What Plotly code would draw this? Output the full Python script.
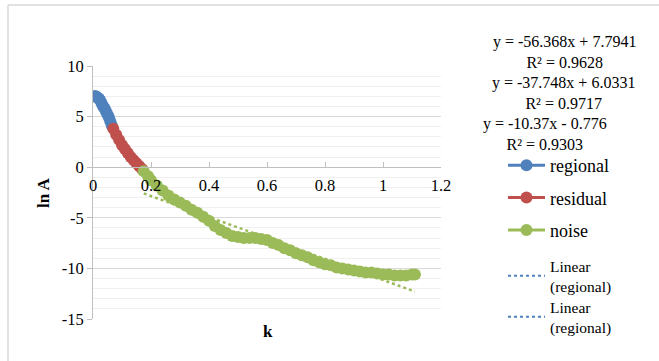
import plotly.graph_objects as go

# ---- data ----
regional_k = [0.005, 0.01, 0.015, 0.02, 0.025, 0.03, 0.035, 0.04, 0.045, 0.05, 0.055, 0.06, 0.065]
regional_lnA = [7.0, 7.0, 6.9, 6.8, 6.6, 6.3, 6.0, 5.8, 5.5, 5.2, 4.9, 4.5, 4.1]

residual_k = [0.07, 0.08, 0.09, 0.10, 0.11, 0.12, 0.13, 0.14, 0.15, 0.16, 0.17]
residual_lnA = [3.8, 3.2, 2.7, 2.2, 1.8, 1.4, 1.0, 0.7, 0.4, 0.1, -0.2]

noise_k = [0.175, 0.19, 0.20, 0.22, 0.24, 0.26, 0.28, 0.30, 0.32, 0.34, 0.36, 0.38, 0.40,
           0.42, 0.44, 0.46, 0.48, 0.50, 0.52, 0.54, 0.56, 0.58, 0.60, 0.62, 0.64, 0.66,
           0.68, 0.70, 0.72, 0.74, 0.76, 0.78, 0.80, 0.82, 0.84, 0.86, 0.88, 0.90, 0.92,
           0.94, 0.96, 0.98, 1.00, 1.02, 1.04, 1.06, 1.08, 1.10, 1.11]
noise_lnA = [-0.4, -0.9, -1.3, -1.8, -2.3, -2.8, -3.2, -3.5, -3.8, -4.2, -4.5, -4.9, -5.3,
             -5.8, -6.2, -6.5, -6.8, -6.9, -7.0, -7.0, -7.0, -7.1, -7.2, -7.5, -7.7, -8.0,
             -8.2, -8.5, -8.7, -8.9, -9.2, -9.4, -9.6, -9.7, -9.9, -10.0, -10.1, -10.2, -10.3,
             -10.4, -10.4, -10.5, -10.6, -10.6, -10.7, -10.7, -10.7, -10.6, -10.6]

# trendline coefficients (slope, intercept, R2)
trend_slopes = [-56.368, -37.748, -10.37]
trend_intercepts = [7.7941, 6.0331, -0.776]
trend_r2 = ["0.9628", "0.9717", "0.9303"]
trend_labels = ["y = -56.368x + 7.7941", "y = -37.748x + 6.0331", "y = -10.37x - 0.776"]

x_ticks = [0, 0.2, 0.4, 0.6, 0.8, 1, 1.2]
x_ticklabels = ["0", "0.2", "0.4", "0.6", "0.8", "1", "1.2"]
y_ticks = [10, 5, 0, -5, -10, -15]
y_ticklabels = ["10", "5", "0", "-5", "-10", "-15"]

BLUE = "#4f81bd"
RED = "#c0504d"
GREEN = "#9bbb59"
SERIF = "Liberation Serif, Times New Roman, serif"

fig = go.Figure()

def trend(xs, i):
    x0, x1 = min(xs), max(xs)
    return [x0, x1], [trend_slopes[i] * x0 + trend_intercepts[i], trend_slopes[i] * x1 + trend_intercepts[i]]

# trendlines drawn first (under markers)
tx, ty = trend(regional_k, 0)
fig.add_trace(go.Scatter(x=tx, y=ty, mode="lines", name="Linear<br>(regional)",
                         line=dict(color=BLUE, width=2, dash="dot"), legend="legend2"))
tx, ty = trend(residual_k, 1)
fig.add_trace(go.Scatter(x=tx, y=ty, mode="lines", name="Linear<br>(regional)",
                         line=dict(color=BLUE, width=2, dash="dot"), legend="legend3"))
tx, ty = trend(noise_k, 2)
fig.add_trace(go.Scatter(x=tx, y=ty, mode="lines", showlegend=False,
                         line=dict(color=GREEN, width=2.5, dash="dot")))

for name, xs, ys, col in [("regional", regional_k, regional_lnA, BLUE),
                          ("residual", residual_k, residual_lnA, RED),
                          ("noise", noise_k, noise_lnA, GREEN)]:
    fig.add_trace(go.Scatter(x=xs, y=ys, mode="lines+markers", name=name,
                             line=dict(color=col, width=3),
                             marker=dict(color=col, size=12),
                             legendgroup=name, legend="legend"))

def py(p):
    return (319 - p) / 253.0
def px(p):
    return (p - 93) / 348.0

# equation annotations (equation + R² in one text block each)
eq_y = [52, 93, 134]
eq_x = [564, 563, 545]
for i in range(3):
    fig.add_annotation(x=px(eq_x[i]), y=py(eq_y[i]), xref="paper", yref="paper",
                       xanchor="center", yanchor="middle", align="center", borderpad=0,
                       text=trend_labels[i] + "<br>R² = " + trend_r2[i], showarrow=False,
                       font=dict(family=SERIF, size=16, color="black"))

# axis titles
fig.add_annotation(x=px(43), y=py(193), xref="paper", yref="paper", text="<b>ln A</b>",
                   xanchor="center", yanchor="middle",
                   textangle=-90, showarrow=False, font=dict(family=SERIF, size=17, color="black"))
fig.add_annotation(x=px(268), y=py(331), xref="paper", yref="paper", text="<b>k</b>",
                   xanchor="center", yanchor="middle",
                   showarrow=False, font=dict(family=SERIF, size=17, color="black"))

# outer frame
fig.add_shape(type="line", xref="paper", yref="paper", x0=px(8), x1=px(8), y0=py(5), y1=py(370),
              line=dict(color="#d9d9d9", width=1.5))
fig.add_shape(type="line", xref="paper", yref="paper", x0=px(8), x1=px(670), y0=py(5), y1=py(5),
              line=dict(color="#d9d9d9", width=1.5))

LEG_X = px(503)
leg_common = dict(x=LEG_X, xanchor="left", yanchor="top", bgcolor="rgba(0,0,0,0)",
                  maxheight=400, itemwidth=37)

fig.update_layout(
    width=659, height=361,
    margin=dict(l=93, r=218, t=66, b=42),
    paper_bgcolor="white", plot_bgcolor="white",
    font=dict(family=SERIF, size=16, color="black"),
    legend=dict(y=py(147), font=dict(family=SERIF, size=18, color="black"),
                tracegroupgap=6, **leg_common),
    legend2=dict(y=py(249), font=dict(family=SERIF, size=15.5, color="black"),
                 tracegroupgap=0, **leg_common),
    legend3=dict(y=py(290), font=dict(family=SERIF, size=15.5, color="black"),
                 tracegroupgap=0, **leg_common),
    xaxis=dict(range=[0, 1.2], tickvals=x_ticks, ticktext=x_ticklabels,
               showgrid=False, zeroline=False, showline=True, linecolor="#bfbfbf", linewidth=1,
               anchor="free", position=0.6, ticks="inside", ticklen=5, tickcolor="#bfbfbf",
               ticklabelstandoff=3,
               tickfont=dict(family=SERIF, size=16.5, color="black")),
    yaxis=dict(range=[-15, 10], tickvals=y_ticks, ticktext=y_ticklabels,
               showgrid=True, gridcolor="#d9d9d9",
               zeroline=False, showline=True, linecolor="#bfbfbf", linewidth=1,
               ticks="outside", ticklen=5, tickcolor="#bfbfbf",
               minor=dict(dtick=1, showgrid=True, gridcolor="#f0f0f0", ticks=""),
               tickfont=dict(family=SERIF, size=16.5, color="black")),
)

fig.write_html("out.html")
